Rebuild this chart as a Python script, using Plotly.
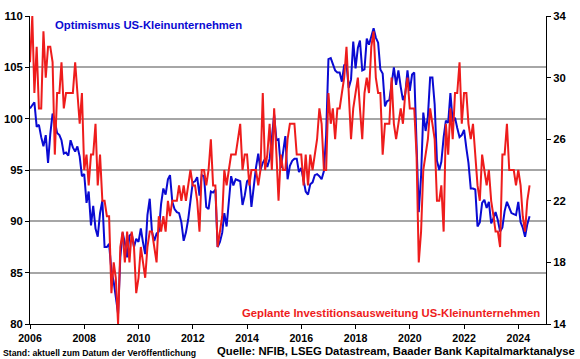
import plotly.graph_objects as go
import pandas as pd

# ---------------- data (monthly, first point 2006-01) ----------------
start_month = "2006-01-01"

optimism = [
    101.0, 101.3, 101.6, 99.2, 99.4, 98.2, 97.3, 98.4, 95.7, 98.5, 100.5, 99.8,
    98.6, 98.4, 97.9, 96.6, 96.7, 96.4, 97.9, 97.2, 96.8, 97.3, 96.3, 94.4,
    94.6, 91.8, 92.9, 89.6, 91.5, 89.3, 88.5, 90.8, 92.0, 87.5, 87.5, 87.8,
    85.2, 84.1, 82.6, 81.0, 86.5, 88.9, 87.9, 86.5, 88.6, 88.8, 87.5, 88.3,
    88.0, 89.3, 88.0, 86.8, 90.6, 92.2, 89.0, 88.1, 88.8, 89.0, 91.7, 93.2,
    92.6, 94.1, 94.5, 91.9, 91.2, 90.9, 90.8, 89.9, 88.1, 88.9, 90.2, 92.0,
    93.8, 93.9, 94.3, 92.5, 94.5, 94.4, 91.4, 91.2, 92.9, 92.8, 93.1, 87.5,
    88.0, 88.9, 90.8, 89.5, 92.1, 94.4, 93.5, 94.1, 94.0, 93.9, 91.6, 92.5,
    93.9, 94.1, 91.4, 93.4, 95.2, 96.6, 95.0, 95.7, 96.1, 95.3, 96.1, 98.1,
    100.4, 97.9, 98.0, 95.2, 96.9, 98.3, 94.1, 95.4, 95.9, 96.1, 96.1, 94.8,
    95.2, 93.9, 92.9, 92.6, 93.6, 93.8, 94.5, 94.6, 94.4, 94.1, 94.9, 98.4,
    105.8, 105.9, 105.3, 104.7, 104.5, 104.5, 103.6, 105.2, 105.3, 103.0, 103.8, 107.5,
    104.9, 106.9, 107.6, 104.7, 104.8, 107.8, 107.2, 107.9, 108.8, 107.9, 107.4, 104.8,
    104.4, 101.2, 101.7, 101.8, 103.5, 105.0, 103.3, 104.7, 103.1, 101.8, 102.4, 104.7,
    102.7, 104.3, 104.5, 96.4, 90.9, 94.4, 100.6, 98.8, 100.2, 104.0, 104.0, 101.4,
    95.9, 95.0, 95.8, 98.2, 99.8, 99.6, 102.5, 99.7, 100.1, 99.1, 98.2, 98.4,
    98.9, 97.1, 95.7, 93.2, 93.2, 93.1, 89.5, 89.9, 91.8, 92.1, 91.3, 91.9,
    89.8, 90.3, 90.9, 90.1, 89.0, 89.4, 91.0, 91.9, 91.3, 90.8, 90.7, 90.6,
    91.9, 89.9, 89.4, 88.5, 89.7, 90.5,
]

capex_plans = [
    31, 34, 29, 32, 28, 28, 33, 30, 32, 32, 31, 25,
    29, 29, 31, 28, 29, 29, 29, 29, 31, 29, 27, 29,
    24, 25, 23, 25, 25, 27, 23, 25, 22, 22, 21, 21,
    16, 18, 17, 14, 19, 20, 18, 20, 18, 20, 19, 16,
    17, 19, 18, 17, 19, 20, 20, 19, 18, 21, 20, 21,
    20, 22, 21, 22, 22, 22, 23, 22, 23, 22, 23, 24,
    23, 23, 22, 20, 24, 24, 23, 24, 26, 23, 23, 19,
    20, 21, 24, 23, 24, 25, 25, 25, 26, 27, 24, 25,
    25, 23, 24, 24, 24, 23, 24, 29, 24, 25, 27, 24,
    28, 25, 22, 25, 24, 24, 26, 27, 27, 27, 25, 25,
    25, 23, 25, 23, 25, 24, 25, 26, 28, 27, 24, 24,
    29, 27, 28, 26, 28, 28, 29, 30, 32, 29, 26, 28,
    29, 30, 28, 26, 29, 30, 29, 32, 33, 30, 29, 29,
    25, 27, 27, 27, 30, 27, 26, 27, 28, 27, 29, 30,
    28, 28, 28, 25, 18, 20, 24, 25, 26, 28, 27, 26,
    22, 22, 23, 20, 27, 25, 28, 26, 29, 29, 31, 27,
    29, 29, 27, 26, 27, 25, 23, 22, 25, 24, 23, 24,
    22, 21, 20, 20, 19, 25, 25, 27, 24, 24, 24, 23,
    24, 23, 21, 20, 22, 23,
]

year_ticks = [2006, 2008, 2010, 2012, 2014, 2016, 2018, 2020, 2022, 2024]
left_ticks = [80, 85, 90, 95, 100, 105, 110]
right_ticks = [14, 18, 22, 26, 30, 34]

title_left = "Optimismus US-Kleinunternehmen"
title_right = "Geplante Investitionsausweitung US-Kleinunternehmen"
footer_left = "Stand: aktuell zum Datum der Veröffentlichung"
footer_right = "Quelle: NFIB, LSEG Datastream, Baader Bank Kapitalmarktanalyse"

# ---------------- figure ----------------
dates = pd.date_range(start_month, periods=len(optimism), freq="MS")

W, H = 580, 359
ML, MR, MT, MB = 30, 34, 16, 35
PW, PH = W - ML - MR, H - MT - MB

def px(x):
    return (x - ML) / PW

def py(y):
    return (H - MB - y) / PH

FONT = "Liberation Sans, Arial, sans-serif"
BLUE = "#0a0ad2"
RED = "#ee1c1c"

fig = go.Figure()
fig.add_trace(go.Scatter(x=dates, y=optimism, mode="lines",
                         line=dict(color=BLUE, width=2), yaxis="y",
                         name=title_left))
fig.add_trace(go.Scatter(x=dates[:len(capex_plans)], y=capex_plans, mode="lines",
                         line=dict(color=RED, width=2), yaxis="y2",
                         name=title_right))

tick_font = dict(family=FONT, size=11.3, color="black", weight="bold")

fig.update_layout(
    width=W, height=H,
    margin=dict(l=ML, r=MR, t=MT, b=MB, autoexpand=False),
    paper_bgcolor="white", plot_bgcolor="white",
    showlegend=False,
    xaxis=dict(
        type="date",
        range=["2006-01-01", "2025-01-08"],
        tickvals=[f"{y}-01-01" for y in year_ticks],
        ticktext=[str(y) for y in year_ticks],
        tickfont=dict(family=FONT, size=10.6, color="black", weight="bold"),
        ticks="outside", ticklen=4, tickcolor="black", tickwidth=1,
        showline=True, linecolor="black", linewidth=1,
        showgrid=False, zeroline=False, automargin=False,
    ),
    yaxis=dict(
        range=[80, 110],
        tickvals=left_ticks,
        tickfont=tick_font,
        ticks="outside", ticklen=4, tickcolor="black", tickwidth=1,
        showline=True, linecolor="black", linewidth=1,
        showgrid=True, gridcolor="#a6a6a6", gridwidth=1.5,
        zeroline=False, automargin=False,
    ),
    yaxis2=dict(
        range=[14, 34],
        tickvals=right_ticks,
        tickfont=tick_font,
        overlaying="y", side="right",
        ticks="outside", ticklen=4, tickcolor="black", tickwidth=1,
        showline=True, linecolor="black", linewidth=1,
        showgrid=False, zeroline=False, automargin=False,
    ),
    # inner half of the right-axis tick marks (ticks cross the axis line)
    yaxis3=dict(
        range=[14, 34],
        tickvals=right_ticks,
        overlaying="y", side="right", anchor="x",
        ticks="inside", ticklen=3, tickcolor="black", tickwidth=1,
        showticklabels=False, showline=False,
        showgrid=False, zeroline=False, automargin=False,
    ),
)

annotations = [
    dict(text=title_left, x=px(52.5), y=py(24.5), xanchor="left", yanchor="middle",
         font=dict(family=FONT, size=11.3, color=BLUE, weight="bold")),
    dict(text=title_right, x=px(542), y=py(312.5), xanchor="right", yanchor="middle",
         font=dict(family=FONT, size=11.3, color=RED, weight="bold")),
    dict(text=footer_left, x=px(1), y=py(352.5), xanchor="left", yanchor="middle",
         font=dict(family=FONT, size=8.7, color="black", weight="bold")),
    dict(text=footer_right, x=px(577), y=py(350.5), xanchor="right", yanchor="middle",
         font=dict(family=FONT, size=11.3, color="black", weight="bold")),
]
for a in annotations:
    a.update(xref="paper", yref="paper", showarrow=False)
fig.update_layout(annotations=annotations)

fig.write_html(
    "out.html",
    config={"displayModeBar": False},
    post_script="document.body.style.margin='0';document.body.style.overflow='hidden';",
)
